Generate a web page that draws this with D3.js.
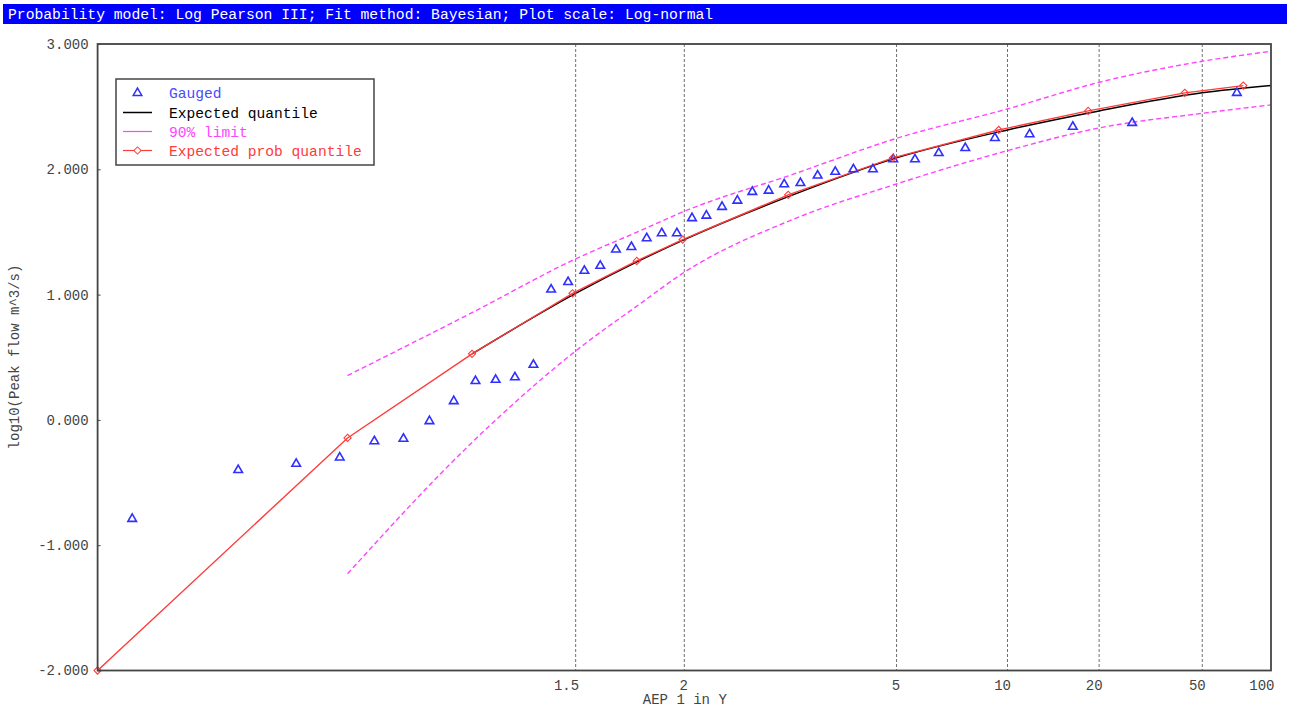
<!DOCTYPE html>
<html>
<head>
<meta charset="utf-8">
<script src="https://cdn.jsdelivr.net/npm/d3@7"></script>
<style>
  body { margin: 0; background: #fff; }
  svg { display: block; }
  text { font-family: "Liberation Mono", "DejaVu Sans Mono", monospace; }
</style>
</head>
<body>
<svg id="chart" width="1290" height="711"></svg>
<script>
// ---- Data -------------------------------------------------------------
const titleText = "Probability model: Log Pearson III; Fit method: Bayesian; Plot scale: Log-normal";
const xAxisTitle = "AEP 1 in Y";
const yAxisTitle = "log10(Peak flow m^3/s)";

const xTickValues = [1.5, 2, 5, 10, 20, 50, 100];
const xTickLabels = ["1.5", "2", "5", "10", "20", "50", "100"];
const yTickValues = [-2, -1, 0, 1, 2, 3];

// Gauged annual maxima: plotting position (AEP 1 in Y) and log10 flow
const gaugedY = [70.3, 26.4, 16.2, 11.7, 9.17, 7.54, 6.39, 5.55, 4.91, 4.40,
                 3.98, 3.64, 3.35, 3.10, 2.89, 2.71, 2.54, 2.40, 2.27, 2.15,
                 2.05, 1.954, 1.867, 1.788, 1.715, 1.648, 1.586, 1.529, 1.476, 1.426,
                 1.379, 1.335, 1.294, 1.256, 1.220, 1.185, 1.153, 1.123, 1.094, 1.066,
                 1.040, 1.0145];
const gaugedLogQ = [2.61, 2.37, 2.34, 2.28, 2.25, 2.17, 2.13, 2.08, 2.08, 2.00,
                    2.00, 1.98, 1.95, 1.89, 1.88, 1.83, 1.82, 1.75, 1.70, 1.63,
                    1.61, 1.49, 1.49, 1.45, 1.38, 1.36, 1.23, 1.19, 1.10, 1.04,
                    0.44, 0.34, 0.32, 0.31, 0.15, -0.01, -0.15, -0.17, -0.30, -0.35,
                    -0.40, -0.79];

// Expected quantile curve
const expQuantY    = [1.25, 1.5, 1.75, 2, 3, 5, 10, 20, 50, 100];
const expQuantLogQ = [0.527, 1.010, 1.269, 1.439, 1.796, 2.091, 2.314, 2.466, 2.610, 2.668];

// 90% confidence limits
const limitY     = [1.1, 1.25, 1.5, 1.75, 2, 3, 5, 10, 20, 50, 100];
const upperLogQ  = [0.354, 0.856, 1.285, 1.505, 1.665, 1.96, 2.247, 2.482, 2.694, 2.862, 2.942];
const lowerLogQ  = [-1.228, -0.18, 0.55, 0.92, 1.178, 1.60, 1.883, 2.149, 2.330, 2.447, 2.514];

// Expected probability quantile
const expProbY    = [1.0101, 1.10, 1.25, 1.49, 1.74, 1.99, 2.94, 4.90, 9.41, 18.3, 42.4, 75.0];
const expProbLogQ = [-2.0, -0.144, 0.527, 1.010, 1.269, 1.439, 1.796, 2.091, 2.314, 2.466, 2.610, 2.668];

// ---- Colours ----------------------------------------------------------
const colGauged = "#2f2fff";
const colExpected = "#000000";
const colLimit = "#ff44ff";
const colExpProb = "#ff3b3b";

// ---- Normal-probability scale ------------------------------------------
// Inverse standard normal CDF (Acklam's rational approximation)
function normInv(p) {
  const a = [-3.969683028665376e+01, 2.209460984245205e+02, -2.759285104469687e+02,
             1.383577518672690e+02, -3.066479806614716e+01, 2.506628277459239e+00];
  const b = [-5.447609879822406e+01, 1.615858368580409e+02, -1.556989798598866e+02,
             6.680131188771972e+01, -1.328068155288572e+01];
  const c = [-7.784894002430293e-03, -3.223964580411365e-01, -2.400758277161838e+00,
             -2.549732539343734e+00, 4.374664141464968e+00, 2.938163982698783e+00];
  const d = [7.784695709041462e-03, 3.224671290700398e-01, 2.445134137142996e+00,
             3.754408661907416e+00];
  const pl = 0.02425, ph = 1 - pl;
  let q, r;
  if (p < pl) {
    q = Math.sqrt(-2 * Math.log(p));
    return (((((c[0]*q+c[1])*q+c[2])*q+c[3])*q+c[4])*q+c[5]) /
           ((((d[0]*q+d[1])*q+d[2])*q+d[3])*q+1);
  }
  if (p <= ph) {
    q = p - 0.5; r = q * q;
    return (((((a[0]*r+a[1])*r+a[2])*r+a[3])*r+a[4])*r+a[5])*q /
           (((((b[0]*r+b[1])*r+b[2])*r+b[3])*r+b[4])*r+1);
  }
  q = Math.sqrt(-2 * Math.log(1 - p));
  return -(((((c[0]*q+c[1])*q+c[2])*q+c[3])*q+c[4])*q+c[5]) /
          ((((d[0]*q+d[1])*q+d[2])*q+d[3])*q+1);
}
// "1 in Y" -> standard normal variate of non-exceedance probability
const toZ = Y => normInv(1 - 1 / Y);

const plot = { left: 97.6, right: 1271, top: 44, bottom: 670.5 };

const zScale = d3.scaleLinear()
  .domain([toZ(1 / 0.99), toZ(100)])
  .range([plot.left, plot.right]);
const x = Y => zScale(toZ(Y));

const y = d3.scaleLinear().domain([-2, 3]).range([plot.bottom, plot.top]);

const svg = d3.select("#chart");

// ---- Title bar --------------------------------------------------------
svg.append("rect").attr("x", 3).attr("y", 4).attr("width", 1284).attr("height", 20)
  .attr("fill", "#0000ff");
svg.append("text").attr("x", 8).attr("y", 19)
  .attr("fill", "#ffffff").style("font-size", "14.7px")
  .text(titleText);

// ---- Clip -------------------------------------------------------------
svg.append("clipPath").attr("id", "plotClip").append("rect")
  .attr("x", plot.left).attr("y", plot.top)
  .attr("width", plot.right - plot.left).attr("height", plot.bottom - plot.top);

// ---- Grid lines -------------------------------------------------------
svg.append("g").selectAll("line").data(xTickValues.filter(v => v < 100)).join("line")
  .attr("x1", d => x(d)).attr("x2", d => x(d))
  .attr("y1", plot.top).attr("y2", plot.bottom)
  .attr("stroke", "#707070").attr("stroke-width", 1)
  .attr("stroke-dasharray", "3,2");

// ---- Axes -------------------------------------------------------------
const xAxis = d3.axisBottom(zScale)
  .tickValues(xTickValues.map(toZ))
  .tickFormat((d, i) => xTickLabels[i])
  .tickSize(0).tickPadding(0);
const gx = svg.append("g").attr("transform", `translate(0,${plot.bottom})`).call(xAxis);
gx.select(".domain").remove();
gx.selectAll("text")
  .attr("text-anchor", "end").attr("dx", 3).attr("dy", 0).attr("y", 19)
  .attr("fill", "#444").style("font-size", "14px");

const yAxis = d3.axisLeft(y)
  .tickValues(yTickValues)
  .tickFormat(d => d.toFixed(3))
  .tickSizeInner(-3).tickSizeOuter(0).tickPadding(9);
const gy = svg.append("g").attr("transform", `translate(${plot.left},0)`).call(yAxis);
gy.select(".domain").remove();
gy.selectAll(".tick line").attr("stroke", "#444");
gy.selectAll("text").attr("fill", "#444").style("font-size", "14px");

svg.append("text")
  .attr("x", (plot.left + plot.right) / 2 + 0.5).attr("y", 704)
  .attr("text-anchor", "middle").attr("fill", "#444").style("font-size", "14px")
  .text(xAxisTitle);

svg.append("text")
  .attr("transform", `translate(19,${357}) rotate(-90)`)
  .attr("text-anchor", "middle").attr("fill", "#444").style("font-size", "14px")
  .text(yAxisTitle);

// ---- Series -----------------------------------------------------------
const series = svg.append("g").attr("clip-path", "url(#plotClip)");

const smooth = d3.line().x(d => x(d[0])).y(d => y(d[1])).curve(d3.curveMonotoneX);
const straight = d3.line().x(d => x(d[0])).y(d => y(d[1]));

// 90% limits
[upperLogQ, lowerLogQ].forEach(vals => {
  series.append("path")
    .datum(limitY.map((Y, i) => [Y, vals[i]]))
    .attr("d", smooth)
    .attr("fill", "none").attr("stroke", colLimit).attr("stroke-width", 1.4)
    .attr("stroke-dasharray", "5,3");
});

// Expected quantile
series.append("path")
  .datum(expQuantY.map((Y, i) => [Y, expQuantLogQ[i]]))
  .attr("d", smooth)
  .attr("fill", "none").attr("stroke", colExpected).attr("stroke-width", 1.5);

// Expected probability quantile
const epData = expProbY.map((Y, i) => [Y, expProbLogQ[i]]);
series.append("path")
  .datum(epData)
  .attr("d", straight)
  .attr("fill", "none").attr("stroke", colExpProb).attr("stroke-width", 1.4);

const diamond = d3.symbol().type(d3.symbolSquare).size(26);
svg.append("g").selectAll("path").data(epData).join("path")
  .attr("d", diamond)
  .attr("transform", d => `translate(${x(d[0])},${y(d[1])}) rotate(45)`)
  .attr("fill", "none").attr("stroke", colExpProb).attr("stroke-width", 1.1);

// Gauged points
const tri = d3.symbol().type(d3.symbolTriangle).size(32);
series.append("g").selectAll("path").data(gaugedY.map((Y, i) => [Y, gaugedLogQ[i]])).join("path")
  .attr("d", tri)
  .attr("transform", d => `translate(${x(d[0])},${y(d[1])})`)
  .attr("fill", "none").attr("stroke", colGauged).attr("stroke-width", 1.6);

// ---- Frame ------------------------------------------------------------
svg.append("rect")
  .attr("x", plot.left).attr("y", plot.top)
  .attr("width", plot.right - plot.left).attr("height", plot.bottom - plot.top)
  .attr("fill", "none").attr("stroke", "#444").attr("stroke-width", 1.8);

// ---- Legend -----------------------------------------------------------
const legend = svg.append("g");
legend.append("rect").attr("x", 116).attr("y", 79).attr("width", 258).attr("height", 86)
  .attr("fill", "#fff").attr("stroke", "#444").attr("stroke-width", 1.5);

const legendItems = [
  { label: "Gauged", color: colGauged, kind: "tri" },
  { label: "Expected quantile", color: colExpected, kind: "line" },
  { label: "90% limit", color: colLimit, kind: "line" },
  { label: "Expected prob quantile", color: colExpProb, kind: "linemark" }
];
const rowY = [93, 112.5, 131.5, 150.5];
legendItems.forEach((it, i) => {
  const g = legend.append("g").attr("transform", `translate(0,${rowY[i]})`);
  if (it.kind === "tri") {
    g.append("path").attr("d", tri).attr("transform", "translate(137.5,0)")
      .attr("fill", "none").attr("stroke", it.color).attr("stroke-width", 1.5);
  } else {
    g.append("line").attr("x1", 123).attr("x2", 152).attr("y1", 0).attr("y2", 0)
      .attr("stroke", it.color).attr("stroke-width", it.kind === "line" && i === 1 ? 1.5 : 1.2);
    if (it.kind === "linemark") {
      g.append("path").attr("d", diamond).attr("transform", "translate(137.5,0) rotate(45)")
        .attr("fill", "#fff").attr("stroke", it.color).attr("stroke-width", 1);
    }
  }
  g.append("text").attr("x", 169).attr("y", 5)
    .attr("fill", it.color === colGauged ? "#4a4aff" : it.color)
    .style("font-size", "14.6px").text(it.label);
});
</script>
</body>
</html>
